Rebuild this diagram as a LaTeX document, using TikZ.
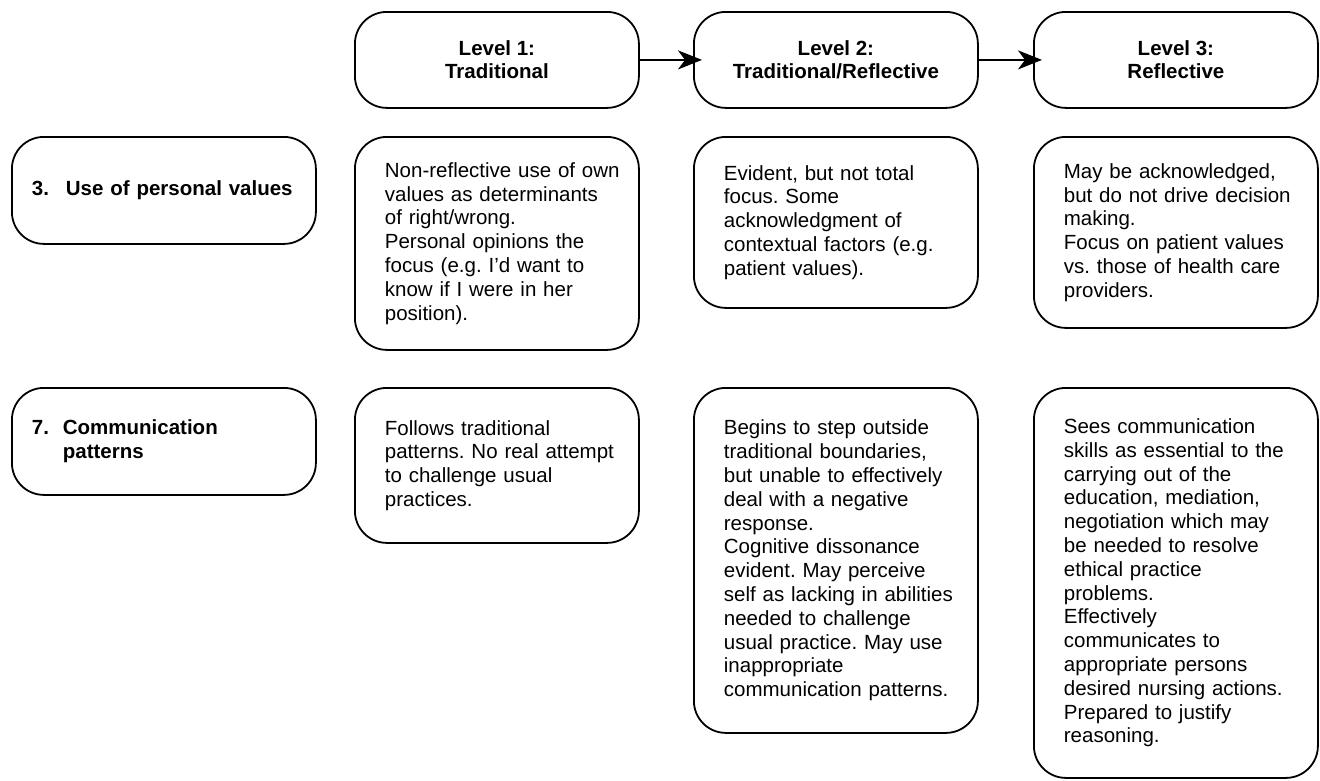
\documentclass[tikz,border=0pt]{standalone}
\usepackage{fontspec}
\setmainfont{Liberation Sans}
\usetikzlibrary{arrows.meta}

\begin{document}
\begin{tikzpicture}[x=1pt,y=-1pt,
  box/.style={draw,line width=1.8pt,rounded corners=32pt,anchor=north west,minimum width=284pt,inner ysep=0pt,font=\fontsize{20.5}{23.8}\selectfont\frenchspacing},
  level/.style={box,align=center,minimum height=96pt,font=\fontsize{20.5}{23.2}\selectfont\bfseries},
  crit/.style={box,minimum width=304pt,minimum height=107pt,text width=264pt,inner xsep=20pt,align=left,font=\fontsize{20.5}{23.8}\selectfont\bfseries},
  cell/.style={box,text width=284pt,inner xsep=0pt,align=left,execute at begin node={\leftskip=30pt\relax}},
  flow/.style={line width=1.8pt,-{Stealth[length=24pt,width=19pt,inset=7pt]},shorten >=-9pt}]
\useasboundingbox (0,0) rectangle (1320,780);
\node[level] (lv1) at (354,11) {Level 1:\\Traditional};
\node[level] (lv2) at (693,11) {Level 2:\\Traditional/Reflective};
\node[level] (lv3) at (1033,11) {Level 3:\\Reflective};
\node[crit] (val) at (11,136) {\makebox[34pt][l]{3.}Use of personal values};
\node[cell,minimum height=213pt] (val1) at (354,136) {Non-reflective use of own\\values as determinants\\of right/wrong.\\Personal opinions the\\focus (e.g. I’d want to\\know if I were in her\\position).};
\node[cell,minimum height=171pt] (val2) at (693,136) {Evident, but not total\\focus. Some\\acknowledgment of\\contextual factors (e.g.\\patient values).};
\node[cell,minimum height=191pt] (val3) at (1033,136) {May be acknowledged,\\but do not drive decision\\making.\\Focus on patient values\\vs. those of health care\\providers.};
\node[crit] (com) at (11,387) {\makebox[31pt][l]{7.}Communication\\\hspace*{31pt}patterns};
\node[cell,minimum height=155pt] (com1) at (354,387) {Follows traditional\\patterns. No real attempt\\to challenge usual\\practices.};
\node[cell,minimum height=345pt] (com2) at (693,387) {Begins to step outside\\traditional boundaries,\\but unable to effectively\\deal with a negative\\response.\\Cognitive dissonance\\evident. May perceive\\self as lacking in abilities\\needed to challenge\\usual practice. May use\\inappropriate\\communication patterns.};
\node[cell,minimum height=390pt] (com3) at (1033,387) {Sees communication\\skills as essential to the\\carrying out of the\\education, mediation,\\negotiation which may\\be needed to resolve\\ethical practice\\problems.\\Effectively\\communicates to\\appropriate persons\\desired nursing actions.\\Prepared to justify\\reasoning.};
\draw[flow] (lv1.east) -- (lv2.west);
\draw[flow] (lv2.east) -- (lv3.west);
\end{tikzpicture}
\end{document}
